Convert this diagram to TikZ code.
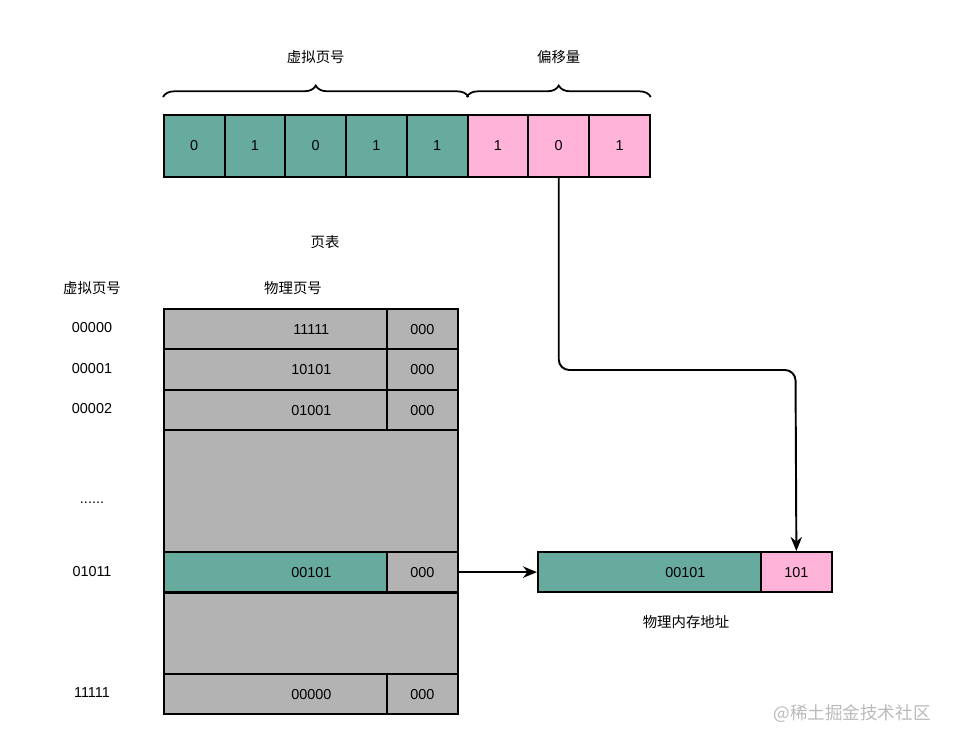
\documentclass[tikz,border=0pt]{standalone}
\usepackage{fontspec}
\setmainfont{Liberation Sans}
\newfontfamily\cjk{Noto Sans CJK SC}
\usetikzlibrary{arrows.meta,positioning,decorations.pathreplacing}
\definecolor{pagegreen}{HTML}{67AB9F}
\definecolor{offpink}{HTML}{FFB3D9}
\definecolor{tablegray}{HTML}{B3B3B3}

\begin{document}
\begin{tikzpicture}[
      x=0.02cm, y=-0.02cm,
      every node/.style={font=\fontsize{8.2}{10}\selectfont},
      bit/.style={rectangle, draw, line width=1pt, minimum width=1.215cm, minimum height=1.24cm, inner sep=0pt, anchor=north west},
      cell/.style={rectangle, draw, line width=1pt, fill=tablegray, minimum height=0.81cm, inner sep=0pt, anchor=north west},
      pfn/.style={cell, minimum width=4.46cm, execute at begin node={\hspace*{1.44cm}}},
      off/.style={cell, minimum width=1.42cm},
      gap/.style={cell, minimum width=5.88cm},
      lbl/.style={font=\cjk\fontsize{8.2}{10}\selectfont},
      brace/.style={decorate, decoration={brace, amplitude=6.5pt}, line width=1pt},
      arr/.style={-{Stealth[length=8pt,width=6.5pt]}, line width=1.1pt},
    ]
    \useasboundingbox (0,0) rectangle (953,746);

    % virtual address bits
    \foreach \i/\v in {1/0,2/1,3/0,4/1,5/1}
      \node[bit, fill=pagegreen] (b\i) at ({163+(\i-1)*60.75},114) {\v};
    \foreach \i/\v in {6/1,7/0,8/1}
      \node[bit, fill=offpink] (b\i) at ({163+(\i-1)*60.75},114) {\v};

    \draw[brace] ([yshift=0.34cm]b1.north west) -- ([yshift=0.34cm]b5.north east) node[midway, above=15pt, lbl] (vpn) {虚拟页号};
    \draw[brace] ([yshift=0.34cm]b6.north west) -- ([yshift=0.34cm]b8.north east) node[midway, above=15pt, lbl] (offs) {偏移量};

    % page table
    \node[lbl] (pt) at (325,242) {页表};
    \node[lbl] (hvpn) at (92,288) {虚拟页号};
    \node[lbl] (hpfn) at (293,288) {物理页号};

    \node[pfn] (p0) at (163,308) {11111};
    \node[off] (o0) at (386,308) {000};
    \node[pfn] (p1) at (163,348.5) {10101};
    \node[off] (o1) at (386,348.5) {000};
    \node[pfn] (p2) at (163,389) {01001};
    \node[off] (o2) at (386,389) {000};
    \node[gap, minimum height=2.44cm] (g1) at (163,429) {};
    \node[pfn, fill=pagegreen] (p3) at (163,551) {00101};
    \node[off] (o3) at (386,551) {000};
    \node[gap, minimum height=1.62cm] (g2) at (163,592) {};
    \node[pfn] (p4) at (163,673) {00000};
    \node[off] (o4) at (386,673) {000};

    \node (v0) at (92,328) {00000};
    \node (v1) at (92,369) {00001};
    \node (v2) at (92,409) {00002};
    \node (vd) at (92,503) {......};
    \node (v3) at (92,572) {01011};
    \node (v4) at (92,693) {11111};

    % physical address
    \node[pfn, fill=pagegreen] (pa1) at (537,551) {00101};
    \node[off, fill=offpink] (pa2) at (760,551) {101};
    \node[lbl] (pal) at (686,622) {物理内存地址};

    \coordinate (turn) at (795.5,370);
    \draw[arr, rounded corners=6pt] (b7.south) |- (turn) -- (pa2.north);
    \draw[arr] (o3.east) -- (pa1.west);

    \node[font=\cjk\fontsize{10}{12}\selectfont, text=black!27] (wm) at (852,714) {@稀土掘金技术社区};
  \end{tikzpicture}
\end{document}
